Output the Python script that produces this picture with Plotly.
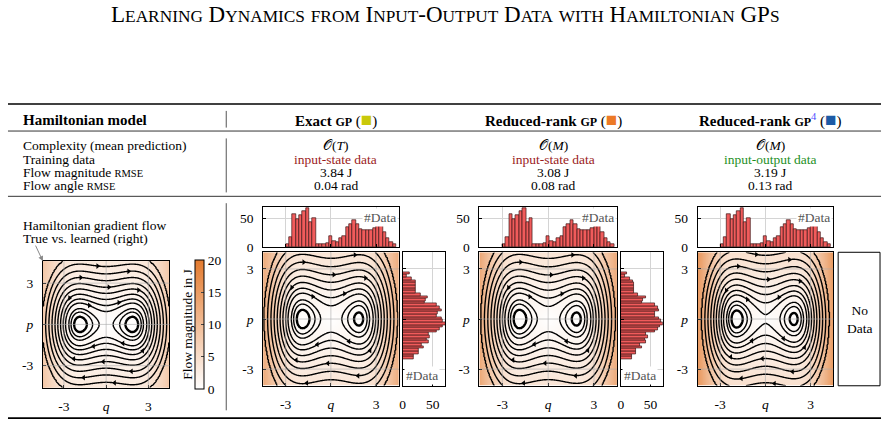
import numpy as np
import plotly.graph_objects as go

W, H = 887, 435
SERIF = "Liberation Serif"

# ---------------- data ----------------
title_words = ["Learning", "Dynamics", "from", "Input-Output", "Data", "with", "Hamiltonian", "GPs"]
model_names = ["Exact", "Reduced-rank", "Reduced-rank"]
model_marker_colors = ["#c9c90a", "#ec7a26", "#1d5ba6"]
metric_labels = ["Complexity (mean prediction)", "Training data", "Flow magnitude RMSE", "Flow angle RMSE"]
complexity = ["T", "M", "M"]
training_data = ["input-state data", "input-state data", "input-output data"]
training_colors = ["#9b1c1c", "#9b1c1c", "#1e8f1e"]
rmse_magnitude = [3.84, 3.08, 3.19]   # J
rmse_angle = [0.04, 0.08, 0.13]       # rad

# histogram of q (position) data
q_bin_start, q_bin_width = -3.0, 0.222
q_counts = [5, 17, 57, 50, 56, 63, 69, 44, 51, 6, 6, 6, 7, 20, 11, 10, 16, 20,
            35, 41, 47, 40, 31, 30, 30, 30, 33, 43, 44, 27, 16, 10, 5]
# histogram of p (momentum) data, ascending p
p_bin_start, p_bin_width = -2.4, 0.158
p_counts = [18, 19, 26, 26, 35, 32, 43, 40, 45, 43, 57, 62, 66, 71, 67, 64, 57,
            58, 64, 62, 57, 36, 38, 42, 29, 22, 22, 22, 22, 21, 15, 7, 11]

# double-well Hamiltonian H = s * (c p^2 + V(q)),  V'(q) = b q (q^2 - a^2) / (1 + q^2/k^2) + d
ham_params = {
    "true":    dict(a=1.87, b=0.26, c=0.50, k=5.0, d=0.0, s=0.72),
    "exact":   dict(a=1.87, b=0.29, c=0.50, k=5.0, d=0.02, s=1.0),
    "rr":      dict(a=1.87, b=0.30, c=0.50, k=5.0, d=0.02, s=1.0),
    "rr_io":   dict(a=1.90, b=0.36, c=0.58, k=5.0, d=0.02, s=1.0),
}
# energy levels (above the minimum, before scaling by s) of the drawn flow lines
thick_level = 0.15
flow_levels = [0.40, 0.65, 1.2, 1.7, 2.4, 3.3, 4.4, 5.8, 7.5, 9.6, 12.0]
arrow_q = [-1.2, 0.9, -2.6, 2.3, 0.2, -1.8, 1.6, -0.6, 2.8]   # where arrows sit on outer lines

# ---------------- helpers ----------------
def px(x):
    return x / W


def py(y):
    return 1 - y / H


def ann(text, x, y, xanchor="center", yanchor="middle", size=13, color="black", **kw):
    return dict(text=text, x=px(x), y=py(y), xref="paper", yref="paper",
                xanchor=xanchor, yanchor=yanchor, showarrow=False,
                font=dict(family=SERIF, size=size, color=color), **kw)


def small_caps(text, small=17.3):
    out = []
    for ch in text:
        if ch.isupper() or not ch.isalpha():
            out.append(ch)
        else:
            out.append("<span style='font-size:%gpx'>%s</span>" % (small, ch.upper()))
    return "".join(out)


fig = go.Figure()
annotations = []
shapes = []

TICKFONT = dict(family=SERIF, size=13.5, color="black")
base_axis = dict(showline=True, linecolor="black", linewidth=1, mirror=True,
                 ticks="inside", ticklen=3, tickcolor="black", showgrid=True,
                 gridcolor="#d4d4d4", gridwidth=1, zeroline=False, tickfont=TICKFONT)

CS = [[0, "#ffffff"], [1, "#e37a2e"]]


def axname(n):
    return "" if n == 1 else str(n)


def set_axes(n, xdom, ydom, xcfg, ycfg):
    xa = dict(base_axis); xa.update(domain=[px(xdom[0]), px(xdom[1])], anchor="y" + axname(n)); xa.update(xcfg)
    ya = dict(base_axis); ya.update(domain=[py(ydom[1]), py(ydom[0])], anchor="x" + axname(n)); ya.update(ycfg)
    fig.update_layout({"xaxis" + axname(n): xa, "yaxis" + axname(n): ya})


def field(params, prange):
    qs = np.linspace(-4.5, 4.5, 181)
    ps = np.linspace(-prange, prange, 161)
    a, b, c, k, d, sc = params["a"], params["b"], params["c"], params["k"], params["d"], params["s"]
    dV = b * qs * (qs ** 2 - a ** 2) / (1 + qs ** 2 / k ** 2) + d
    V = np.concatenate([[0], np.cumsum(0.5 * (dV[1:] + dV[:-1]) * np.diff(qs))])
    Q, P = np.meshgrid(qs, ps)
    Hm = c * P ** 2 + V[None, :]
    mag = sc * np.sqrt(dV[None, :] ** 2 + (2 * c * P) ** 2)
    Emin = Hm.min()
    E = Hm - Emin
    lv = [0.0, thick_level] + flow_levels + [1e4]
    t = np.interp(E, lv, np.arange(len(lv)))
    # arrow heads on the outer flow lines (flow: dq/dt = dH/dp)
    ax_q, ax_p, sym = [], [], []
    for i, L in enumerate(flow_levels[2:]):
        qa = arrow_q[i % len(arrow_q)]
        Vq = np.interp(qa, qs, V)
        r = (Emin + L - Vq) / c
        if r <= 0:
            continue
        pa = np.sqrt(r)
        if pa < prange * 0.97:
            ax_q += [qa, -qa]
            ax_p += [pa, -pa]
            sym += ["triangle-right", "triangle-left"]
    return qs, ps, np.round(mag, 3), np.round(t, 4), ax_q, ax_p, sym


def phase_panel(n, key, xdom, ydom, prange, colorbar=None):
    qs, ps, mag, t, aq, ap, sym = field(ham_params[key], prange)
    xr, yr = "x" + axname(n), "y" + axname(n)
    hm = dict(x=qs, y=ps, z=mag, colorscale=CS, zmin=0, zmax=20, zsmooth="best",
              xaxis=xr, yaxis=yr, hoverinfo="skip")
    if colorbar:
        hm.update(showscale=True, colorbar=colorbar)
    else:
        hm.update(showscale=False)
    fig.add_trace(go.Heatmap(**hm))
    fig.add_trace(go.Contour(x=qs, y=ps, z=t, showscale=False, hoverinfo="skip",
                             contours=dict(coloring="none", start=2, end=len(flow_levels) + 1, size=1),
                             line=dict(color="black", width=1.4), xaxis=xr, yaxis=yr))
    fig.add_trace(go.Contour(x=qs, y=ps, z=t, showscale=False, hoverinfo="skip",
                             contours=dict(coloring="none", start=1, end=1.001, size=1),
                             line=dict(color="black", width=2.4), xaxis=xr, yaxis=yr))
    fig.add_trace(go.Scatter(x=aq, y=ap, mode="markers", xaxis=xr, yaxis=yr, hoverinfo="skip",
                             marker=dict(symbol=sym, size=5, color="black")))
    set_axes(n, xdom, ydom,
             dict(range=[-4.5, 4.5], tickvals=[-3, 0, 3], ticktext=["-3", "<i>q</i>", "3"], ticklabelstandoff=6),
             dict(range=[-prange, prange], tickvals=[-3, 0, 3], ticktext=["-3", "<i>p</i>", "3"], ticklabelstandoff=6))
    # grid lines drawn above the heat map
    for v in [-3, 0, 3]:
        shapes.append(dict(type="line", layer="above", xref=xr, yref=yr + " domain", x0=v, x1=v, y0=0, y1=1,
                           line=dict(color="rgba(170,170,170,0.6)", width=1)))
        shapes.append(dict(type="line", layer="above", xref=xr + " domain", yref=yr, x0=0, x1=1, y0=v, y1=v,
                           line=dict(color="rgba(170,170,170,0.6)", width=1)))


BAR = dict(color="#f15b5b", line=dict(color="#3a1515", width=0.7))


def top_hist(n, xdom, ydom):
    centers = [q_bin_start + q_bin_width * (i + 0.5) for i in range(len(q_counts))]
    fig.add_trace(go.Bar(x=centers, y=q_counts, width=q_bin_width, marker=BAR,
                         xaxis="x" + axname(n), yaxis="y" + axname(n), hoverinfo="skip"))
    set_axes(n, xdom, ydom,
             dict(range=[-4.5, 4.5], tickvals=[-3, 0, 3], showticklabels=False),
             dict(range=[0, 70], tickvals=[0, 50], ticklabelstandoff=6))
    annotations.append(ann("#Data", xdom[1] - 1, ydom[0] + 1, xanchor="right", yanchor="top",
                           size=13.5, color="#555555", bgcolor="white"))


def right_hist(n, xdom, ydom):
    centers = [p_bin_start + p_bin_width * (i + 0.5) for i in range(len(p_counts))]
    fig.add_trace(go.Bar(y=centers, x=p_counts, width=p_bin_width, orientation="h", marker=BAR,
                         xaxis="x" + axname(n), yaxis="y" + axname(n), hoverinfo="skip"))
    set_axes(n, xdom, ydom,
             dict(range=[0, 71], tickvals=[0, 50], ticklabelstandoff=6),
             dict(range=[-4, 4], tickvals=[-3, 0, 3], showticklabels=False))
    annotations.append(ann("#Data", xdom[0] + 1, ydom[1] - 1, xanchor="left", yanchor="bottom",
                           size=13.5, color="#555555", bgcolor="white"))


# ---------------- panels ----------------
MAIN_Y = (257, 393)
TOP_Y = (211, 252)

phase_panel(1, "true", (40, 167), (266, 395), 4.6,
            colorbar=dict(thickness=9, thicknessmode="pixels", len=129, lenmode="pixels",
                          x=px(193), xanchor="left", y=py(330.5), yanchor="middle",
                          outlinewidth=1, outlinecolor="black", tickvals=[0, 5, 10, 15, 20],
                          ticks="inside", ticklen=3, tickfont=TICKFONT, xpad=0, ypad=0))
phase_panel(2, "exact", (261, 397), MAIN_Y, 4.0)
top_hist(3, (261, 397), TOP_Y)
right_hist(4, (401, 444), MAIN_Y)

phase_panel(5, "rr", (478, 616), MAIN_Y, 4.0)
top_hist(6, (478, 616), TOP_Y)
right_hist(7, (620, 662), MAIN_Y)

phase_panel(8, "rr_io", (697, 833), MAIN_Y, 4.0)
top_hist(9, (697, 833), TOP_Y)

# No data box
shapes.append(dict(type="rect", xref="paper", yref="paper", x0=px(838), x1=px(880), y0=py(393), y1=py(257),
                   line=dict(color="black", width=1), fillcolor="white"))
annotations.append(ann("No<br>Data", 859, 325, size=13.5))

# ---------------- table text ----------------
annotations.append(ann(" ".join(small_caps(w) for w in title_words), 443.5, 15, size=23))

annotations.append(ann("<b>Hamiltonian model</b>", 18, 122, xanchor="left", size=15))
col_x = [334, 552, 770]
sup = ["", "", "<sup><span style='color:#5050ff'>4</span></sup>"]
for i in range(3):
    head = ("<b>%s <span style='font-size:12px'>GP</span></b>%s (<span style='color:%s;font-size:19px'>■</span>)"
            % (model_names[i], sup[i], model_marker_colors[i]))
    annotations.append(ann(head, col_x[i], 122, size=15))

row_y = [148.5, 162, 175.5, 189]
for j, lab in enumerate(metric_labels):
    lab = lab.replace("RMSE", "<span style='font-size:10.5px'>RMSE</span>")
    annotations.append(ann(lab, 18, row_y[j], xanchor="left", size=13.5))
for i in range(3):
    annotations.append(ann("𝒪(<i>%s</i>)" % complexity[i], col_x[i], row_y[0], size=13.5))
    annotations.append(ann(training_data[i], col_x[i], row_y[1], size=13.5, color=training_colors[i]))
    annotations.append(ann("%.2f J" % rmse_magnitude[i], col_x[i], row_y[2], size=13.5))
    annotations.append(ann("%.2f rad" % rmse_angle[i], col_x[i], row_y[3], size=13.5))

# left panel annotation
annotations.append(ann("Hamiltonian gradient flow", 18, 230, xanchor="left", size=13.5))
annotations.append(ann("True vs. learned (right)", 18, 242.5, xanchor="left", size=13.5))
annotations.append(dict(x=-4.5, y=4.6, xref="x", yref="y", text="", showarrow=True, ax=-8, ay=-17,
                        arrowhead=2, arrowsize=1, arrowwidth=1, arrowcolor="#888888"))
annotations.append(ann("Flow magnitude in J", 185, 330.5, size=13.5, textangle=-90))

# rules
for y, wdt in [(106, 1.6), (133.5, 0.8), (200, 0.8), (426, 1.6)]:
    shapes.append(dict(type="line", xref="paper", yref="paper", x0=px(5), x1=px(881), y0=py(y), y1=py(y),
                       line=dict(color="black", width=wdt)))
for y0, y1 in [(113, 130), (141, 196), (207, 418)]:
    shapes.append(dict(type="line", xref="paper", yref="paper", x0=px(224), x1=px(224), y0=py(y0), y1=py(y1),
                       line=dict(color="#555555", width=1)))

fig.update_layout(width=W, height=H, margin=dict(l=0, r=0, t=0, b=0), showlegend=False,
                  paper_bgcolor="white", plot_bgcolor="white", bargap=0,
                  annotations=annotations, shapes=shapes,
                  font=dict(family=SERIF, size=13, color="black"))

fig.write_html("out.html")
